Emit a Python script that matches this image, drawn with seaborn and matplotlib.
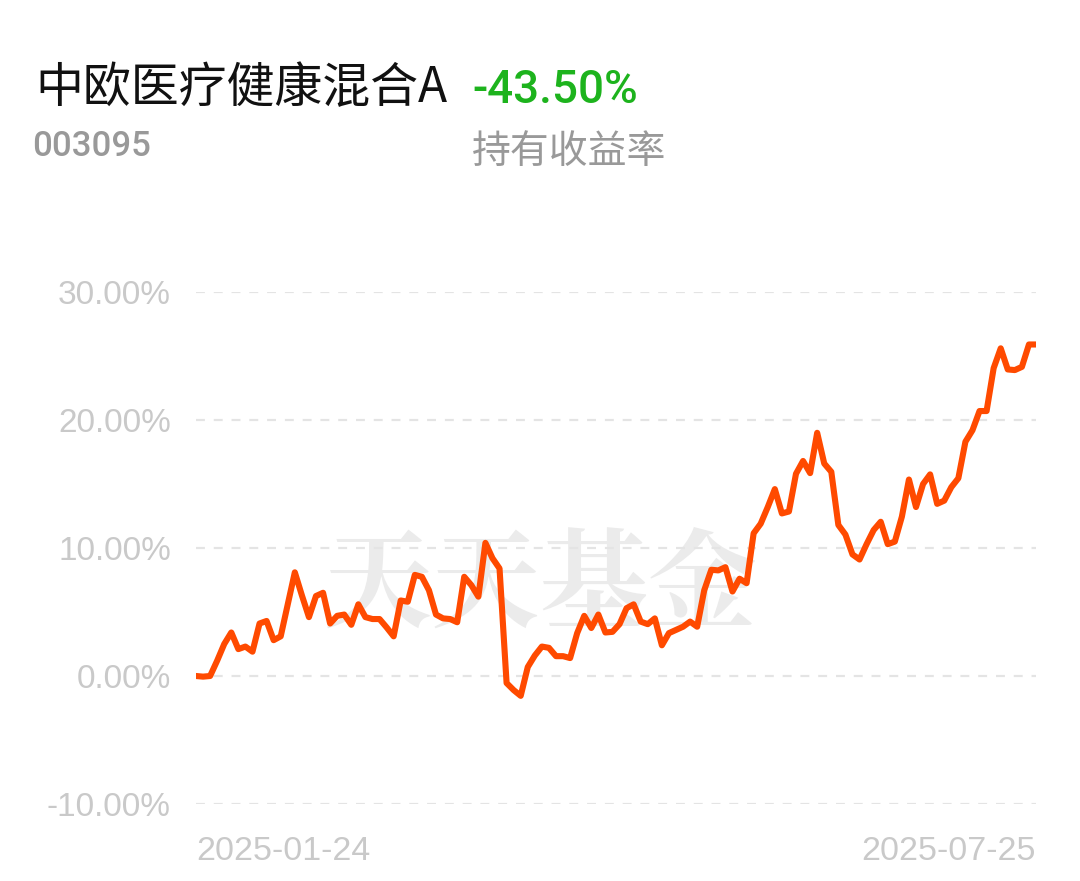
import pandas as pd
import matplotlib
matplotlib.use('Agg')
import matplotlib.pyplot as plt
import seaborn as sns

# Fund info
fund_name = '中欧医疗健康混合A'
fund_code = '003095'
hold_return = '-43.50%'
hold_label = '持有收益率'
watermark = '天天基金'
date_labels = ['2025-01-24', '2025-07-25']
y_ticks = [-10, 0, 10, 20, 30]

# Cumulative return (%), one value per trading day
returns = [0.0, -0.05, 0.0, 1.2, 2.5, 3.4, 2.1, 2.3, 1.9, 4.1,
           4.3, 2.8, 3.1, 5.6, 8.1, 6.3, 4.6, 6.25, 6.5, 4.1,
           4.7, 4.8, 4.0, 5.6, 4.6, 4.45, 4.45, 3.8, 3.1, 5.9,
           5.8, 7.9, 7.75, 6.7, 4.8, 4.5, 4.45, 4.2, 7.75, 7.1,
           6.2, 10.4, 9.2, 8.4, -0.55, -1.1, -1.55, 0.7, 1.6, 2.3,
           2.2, 1.55, 1.55, 1.4, 3.35, 4.7, 3.75, 4.8, 3.4, 3.45,
           4.05, 5.3, 5.6, 4.25, 4.05, 4.5, 2.4, 3.35, 3.6, 3.85,
           4.25, 3.85, 6.7, 8.3, 8.25, 8.5, 6.6, 7.6, 7.25, 11.15,
           11.9, 13.2, 14.6, 12.7, 12.85, 15.8, 16.8, 15.85, 19.0, 16.6,
           15.95, 11.8, 11.05, 9.5, 9.1, 10.3, 11.4, 12.05, 10.3, 10.5,
           12.45, 15.35, 13.2, 15.0, 15.75, 13.45, 13.7, 14.75, 15.45, 18.3,
           19.2, 20.7, 20.7, 24.05, 25.6, 23.95, 23.9, 24.15, 25.9, 25.9]

df = pd.DataFrame({'day': range(len(returns)), 'ret': returns})

sns.set_style('white')
plt.rcParams['font.family'] = ['Noto Sans CJK SC', 'DejaVu Sans']

fig = plt.figure(figsize=(10.8, 8.81), dpi=100)
ax = fig.add_axes([196 / 1080, 1 - 804 / 881, (1036 - 196) / 1080, (804 - 292) / 881])

# watermark behind the line
ax.text(0.41, 0.42, watermark, transform=ax.transAxes, ha='center', va='center',
        fontsize=78, fontweight='bold', color='#ebebeb', zorder=0,
        family=['Noto Serif CJK SC', 'Noto Sans CJK SC'])

sns.lineplot(data=df, x='day', y='ret', ax=ax, color='#ff4a00', linewidth=4.4,
             zorder=3, solid_joinstyle='round', solid_capstyle='round')

ax.set_xlim(0, len(returns) - 1)
ax.set_ylim(-10, 30)
ax.set_yticks(y_ticks)
ax.set_yticklabels([f'{v:.2f}%' for v in y_ticks], fontsize=24, color='#c9c9c9',
                   family='Liberation Sans')
ax.set_xticks([0, len(returns) - 1])
ax.set_xticklabels(date_labels, fontsize=24.5, color='#c9c9c9', family='Liberation Sans')
ax.get_xticklabels()[0].set_ha('left')
ax.get_xticklabels()[1].set_ha('right')
ax.tick_params(axis='y', length=0, pad=18)
ax.tick_params(axis='x', length=0, pad=23)
ax.set_xlabel('')
ax.set_ylabel('')
for s in ax.spines.values():
    s.set_visible(False)
ax.yaxis.grid(True, color='#e4e4e4', linestyle=(0, (4, 4)), linewidth=1.6)
ax.xaxis.grid(False)

# header texts
fig.text(35 / 1080, 1 - 88 / 881, fund_name, fontsize=34.5, color='#111111', va='center')
fig.text(472 / 1080, 1 - 90 / 881, hold_return, fontsize=33, color='#1db31d', va='center',
         family='Roboto', fontweight='medium')
fig.text(32 / 1080, 1 - 147 / 881, fund_code, fontsize=25, color='#999999', va='center',
         family='Roboto', fontweight='medium')
fig.text(472 / 1080, 1 - 152 / 881, hold_label, fontsize=28, color='#999999', va='center')

plt.savefig('out.png', dpi=100)
